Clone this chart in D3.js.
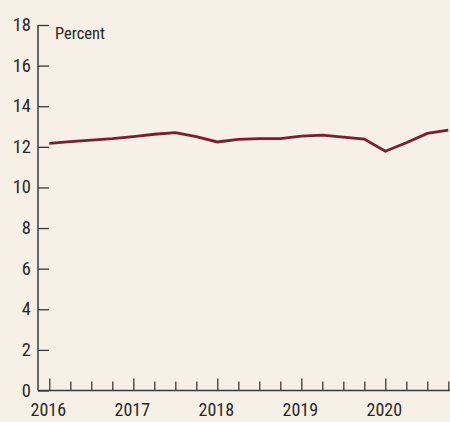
<!DOCTYPE html>
<html><head><meta charset="utf-8">
<script src="https://cdn.jsdelivr.net/npm/d3@7"></script>
<style>
html,body{margin:0;padding:0;background:#f6f0e6;}
svg{display:block;}
text{font-family:"Liberation Sans Narrow","Arial Narrow","Roboto Condensed","Liberation Sans",sans-serif;fill:#2a2728;}
</style></head>
<body>
<svg id="c" width="450" height="422"></svg>
<script>
const quarters = [2016.0,2016.25,2016.5,2016.75,2017.0,2017.25,2017.5,2017.75,2018.0,2018.25,2018.5,2018.75,2019.0,2019.25,2019.5,2019.75,2020.0,2020.25,2020.5,2020.75];
const values = [12.17,12.26,12.33,12.40,12.50,12.62,12.70,12.50,12.24,12.37,12.40,12.40,12.53,12.58,12.48,12.38,11.78,12.20,12.66,12.82];
const yTicks = [0,2,4,6,8,10,12,14,16,18];
const yearLabels = [2016,2017,2018,2019,2020];
const unitLabel = "Percent";

const svg = d3.select("#c");
svg.append("rect").attr("width",450).attr("height",422).attr("fill","#f6f0e6");

const x = d3.scaleLinear().domain([2016,2020.75]).range([49.3,448.3]);
const y = d3.scaleLinear().domain([0,18]).range([390.5,25]);
const axisColor = "#3a3a3a";

// y axis
const yAxis = svg.append("g").attr("transform","translate(38,0)")
  .call(d3.axisRight(y).tickValues(yTicks).tickSize(11).tickFormat(""));
yAxis.select(".domain").remove();
yAxis.selectAll("line").attr("stroke",axisColor).attr("stroke-width",1.3);
svg.append("line").attr("x1",38).attr("x2",38).attr("y1",y(18)).attr("y2",y(0))
  .attr("stroke",axisColor).attr("stroke-width",1.5);
svg.append("g").selectAll("text").data(yTicks).join("text")
  .attr("x",31).attr("y",d=>y(d)+6).attr("text-anchor","end")
  .attr("font-size",18.5).text(d=>d);

// x axis
svg.append("line").attr("x1",38).attr("x2",450).attr("y1",y(0)).attr("y2",y(0))
  .attr("stroke",axisColor).attr("stroke-width",1.5);
const xAxis = svg.append("g").attr("transform",`translate(0,${y(0)})`)
  .call(d3.axisTop(x).tickValues(quarters).tickSizeOuter(0).tickFormat(""));
xAxis.select(".domain").remove();
xAxis.selectAll(".tick line").attr("stroke",axisColor).attr("stroke-width",1.3)
  .attr("y2",d=>Number.isInteger(d)?-12:-9);
svg.append("g").selectAll("text").data(yearLabels).join("text")
  .attr("x",d=>x(d)-1).attr("y",416).attr("text-anchor","middle")
  .attr("font-size",18).text(d=>d);

// unit label
svg.append("text").attr("x",55).attr("y",39).attr("font-size",16.5).text(unitLabel);

// line
svg.append("path").datum(quarters.map((q,i)=>[q,values[i]]))
  .attr("fill","none").attr("stroke","#7a1f2b").attr("stroke-width",2.8)
  .attr("stroke-linejoin","miter")
  .attr("d",d3.line().x(d=>x(d[0])).y(d=>y(d[1])));
</script>
</body></html>
